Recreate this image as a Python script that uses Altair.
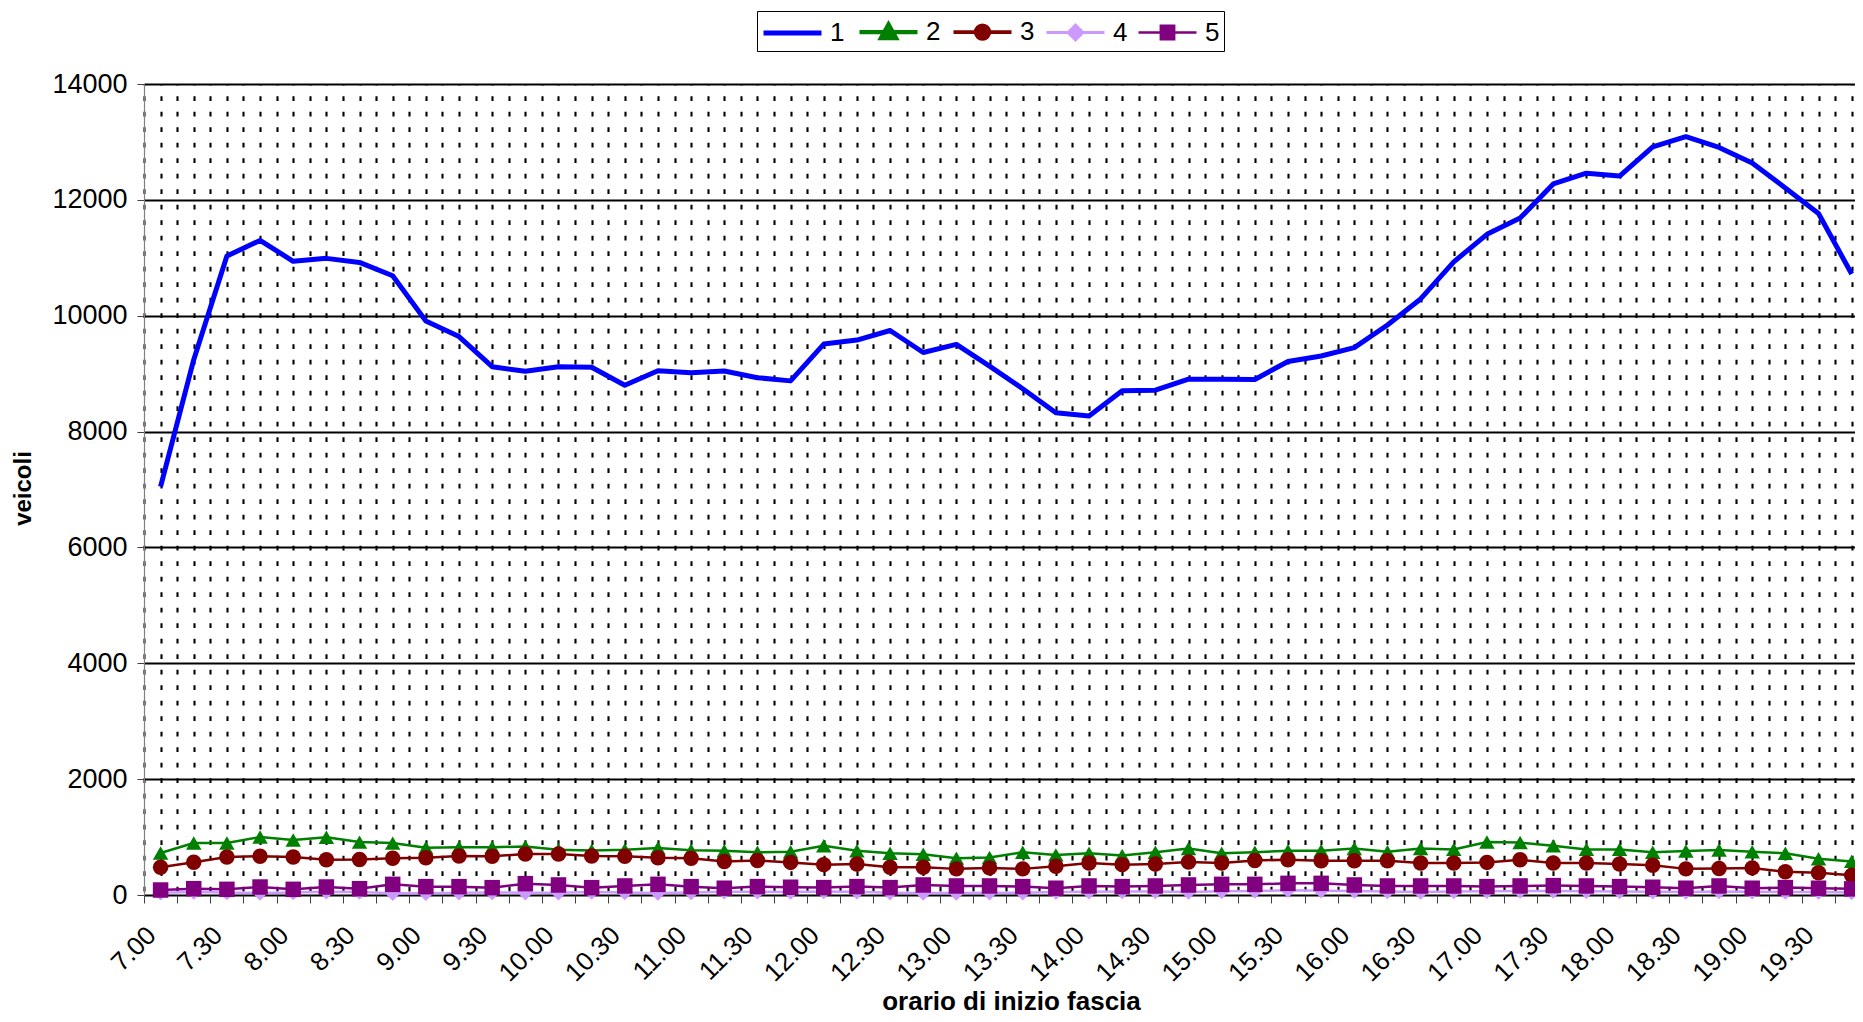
import altair as alt
import pandas as pd

# categories: start time of each 15-minute slot
times = ["7.00", "7.15", "7.30", "7.45", "8.00", "8.15", "8.30", "8.45",
         "9.00", "9.15", "9.30", "9.45", "10.00", "10.15", "10.30", "10.45",
         "11.00", "11.15", "11.30", "11.45", "12.00", "12.15", "12.30", "12.45",
         "13.00", "13.15", "13.30", "13.45", "14.00", "14.15", "14.30", "14.45",
         "15.00", "15.15", "15.30", "15.45", "16.00", "16.15", "16.30", "16.45",
         "17.00", "17.15", "17.30", "17.45", "18.00", "18.15", "18.30", "18.45",
         "19.00", "19.15", "19.30", "19.45"]

series_names = ["1", "2", "3", "4", "5"]
series_colors = ["#0000FF", "#008000", "#800000", "#CC99FF", "#800080"]
series_markers = [None, "triangle-up", "circle", "diamond", "square"]
series_widths = [5, 2.5, 2.5, 2.5, 2.5]

s1 = [7050, 9240, 11030, 11300, 10940, 10990, 10920, 10690, 9910, 9640,
      9120, 9040, 9120, 9110, 8800, 9050, 9015, 9045, 8930, 8875,
      9510, 9580, 9745, 9365, 9505, 9130, 8740, 8325, 8270, 8705,
      8715, 8905, 8905, 8900, 9210, 9305, 9450, 9840, 10290, 10930,
      11405, 11685, 12275, 12460, 12410, 12915, 13090, 12905, 12635, 12205,
      11765, 10720]
s2 = [725, 898, 898, 1000, 950, 997, 913, 896, 815, 823,
      823, 838, 781, 770, 781, 810, 773, 765, 737, 748,
      849, 765, 720, 703, 636, 647, 737, 692, 720, 681,
      737, 804, 720, 737, 765, 765, 804, 748, 804, 787,
      916, 905, 849, 787, 787, 737, 759, 776, 748, 720,
      625, 580]
s3 = [478, 565, 655, 669, 655, 607, 613, 635, 641, 675,
      669, 708, 708, 675, 669, 641, 635, 580, 597, 563,
      524, 535, 479, 479, 451, 468, 451, 496, 552, 524,
      535, 569, 552, 597, 608, 591, 591, 591, 552, 552,
      563, 608, 552, 552, 535, 513, 451, 457, 468, 401,
      384, 339]
s4 = [40, 50, 45, 35, 45, 55, 50, 30, 30, 40,
      45, 40, 40, 50, 45, 35, 45, 55, 55, 50,
      60, 55, 40, 35, 35, 40, 40, 50, 55, 60,
      60, 50, 65, 70, 80, 75, 70, 60, 50, 60,
      65, 70, 70, 65, 60, 55, 50, 60, 55, 50,
      50, 45]
s5 = [86, 109, 98, 138, 98, 138, 109, 184, 144, 144,
      127, 196, 173, 127, 156, 184, 144, 117, 145, 134,
      128, 145, 128, 173, 156, 156, 145, 117, 156, 145,
      156, 173, 184, 184, 201, 201, 173, 156, 156, 156,
      145, 156, 162, 156, 145, 134, 117, 156, 117, 128,
      117, 106]

y_ticks = [0, 2000, 4000, 6000, 8000, 10000, 12000, 14000]

rows = []
for name, vals, mk, col in zip(series_names, [s1, s2, s3, s4, s5], series_markers, series_colors):
    for i, v in enumerate(vals):
        rows.append({"i": i, "fascia": times[i], "series": name, "value": v,
                     "marker": mk if mk else "circle", "col": col})
df = pd.DataFrame(rows)

FONT = "Liberation Sans"

# legend symbols: a line segment with the series marker in the middle
# (drawn in a unit box shifted right so the whole segment sits in the entry)
legend_paths = [
    "M-1,0H3",
    "M-1,0H3M0.48,0.42L1,-0.52L1.52,0.42Z",
    "M-1,0H3M0.53,0A0.47,0.47,0,1,0,1.47,0A0.47,0.47,0,1,0,0.53,0Z",
    "M-1,0H3M0.5,0L1,-0.5L1.5,0L1,0.5Z",
    "M-1,0H3M0.54,-0.46H1.46V0.46H0.54Z",
]

label_expr = ("(datum.value >= 0 && datum.value % 2 === 0) ? ["
              + ",".join("'%s'" % t for t in times) + "][datum.value] : ''")

x_values = [k / 2 - 0.5 for k in range(2 * len(times))]

x_enc = alt.X(
    "i:Q",
    scale=alt.Scale(domain=[-0.5, 51.1], nice=False, zero=False),
    axis=alt.Axis(
        values=x_values, tickCount=400,
        grid=True, gridColor="black", gridWidth=2.1,
        gridDash=[4.7, 10.8], gridDashOffset=3.8,
        domain=False,
        ticks=True, tickSize=8, tickColor="#404040", tickWidth=1,
        tickOpacity={"condition": {"test": "datum.value % 1 !== 0", "value": 1}, "value": 0},
        labelExpr=label_expr, labelAngle=-45, labelAlign="right", labelBaseline="bottom",
        labelFont=FONT, labelFontSize=26, labelColor="black", labelPadding=37,
        labelOverlap=False, labelFlush=False, labelBound=False,
        title="orario di inizio fascia", titleFont=FONT, titleFontSize=26,
        titleFontWeight="bold", titleColor="black",
        titleX=867, titleY=114, titleAlign="center", titleBaseline="alphabetic",
    ),
)

y_enc = alt.Y(
    "value:Q",
    scale=alt.Scale(domain=[0, 14000], nice=False),
    axis=alt.Axis(
        values=y_ticks, format="d",
        grid=True, gridColor="black", gridWidth=2,
        domain=True, domainColor="#808080", domainWidth=1.2,
        tickSize=7, tickColor="#404040", tickWidth=1,
        labelFont=FONT, labelFontSize=27, labelColor="black", labelPadding=10,
        title="veicoli", titleFont=FONT, titleFontSize=24, titleFontWeight="bold",
        titleColor="black", titleAngle=270, titleX=-121, titleY=404,
        titleAlign="center", titleBaseline="middle",
    ),
)

color_scale = alt.Scale(domain=series_names, range=series_colors)
width_scale = alt.Scale(domain=series_names, range=series_widths)

legend = alt.Legend(
    orient="none", legendX=613, legendY=-73, direction="horizontal", columns=5,
    title=None, labelFont=FONT, labelFontSize=26, labelColor="black",
    labelOffset=35, columnPadding=5, padding=4,
    strokeColor="black", fillColor="white",
    symbolSize=841, symbolOpacity=1,
)

base = alt.Chart(df)

lines = base.mark_line(strokeJoin="round").encode(
    x=x_enc,
    y=y_enc,
    color=alt.Color("col:N", scale=None),
    strokeWidth=alt.condition("datum.series === '1'", alt.value(5), alt.value(2.5)),
    detail="series:N",
)

points = base.transform_filter("datum.series !== '1'").mark_point(
    filled=True, size=240, opacity=1
).encode(
    x="i:Q",
    y="value:Q",
    color=alt.Color("col:N", scale=None),
    shape=alt.Shape("marker:N", scale=None),
)

legend_layer = base.transform_filter("datum.i === 0").mark_point(
    opacity=0, size=841
).encode(
    x="i:Q",
    y="value:Q",
    fill=alt.Fill("series:N", scale=color_scale, legend=legend),
    stroke=alt.Stroke("series:N", scale=color_scale, legend=legend),
    shape=alt.Shape("series:N", scale=alt.Scale(domain=series_names, range=legend_paths), legend=legend),
    strokeWidth=alt.StrokeWidth("series:N", scale=width_scale, legend=legend),
)

chart = alt.layer(lines, points, legend_layer).properties(
    width=1711, height=811,
    autosize=alt.AutoSizeParams(type="none"),
    padding={"left": 136, "top": 76, "right": 0, "bottom": 119},
    background="white",
).configure_view(stroke=None)

chart.save("out.html", embed_options={"renderer": "svg", "actions": False})
